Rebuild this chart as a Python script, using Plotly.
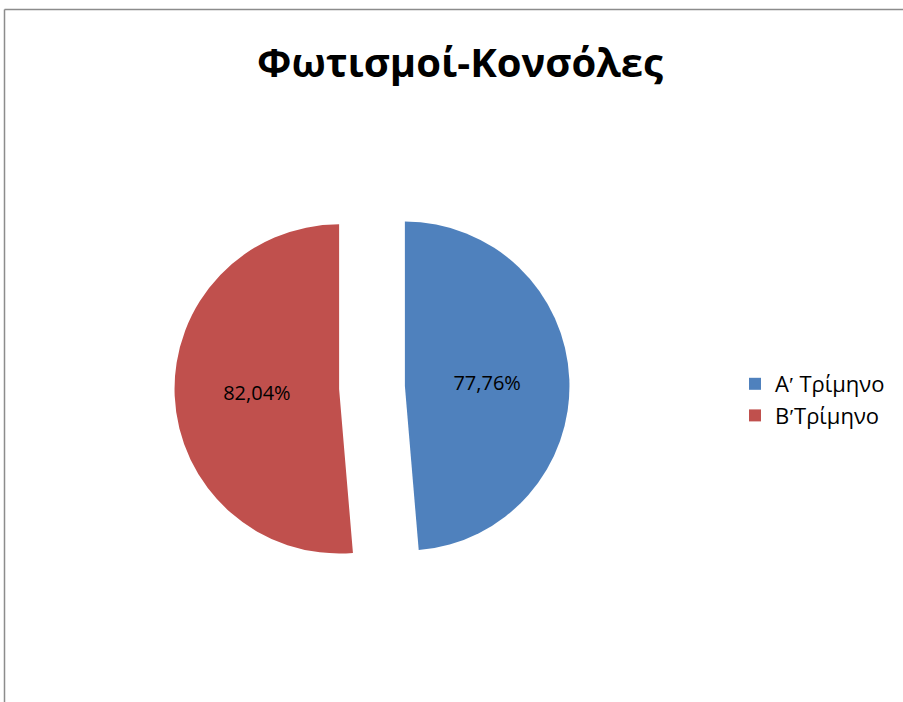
import plotly.graph_objects as go

labels = ["Αʹ Τρίμηνο", "ΒʹΤρίμηνο"]
values = [77.76, 82.04]
text_labels = ["77,76%", "82,04%"]
colors = ["#4F81BD", "#C0504D"]

W, H = 903, 702

fig = go.Figure(go.Pie(
    labels=labels,
    values=values,
    text=text_labels,
    textinfo="text",
    textposition="inside",
    insidetextfont=dict(family="Open Sans", size=20, color="black"),
    marker=dict(colors=colors, line=dict(width=0)),
    sort=False,
    direction="clockwise",
    rotation=0,
    pull=[0.2, 0.2],
    domain=dict(x=[(372 - 260) / W, (372 + 260) / W], y=[1 - 585 / H, 1 - 190 / H]),
    hoverinfo="label+value",
))

fig.update_layout(
    width=W, height=H,
    margin=dict(l=0, r=0, t=0, b=0),
    paper_bgcolor="white",
    plot_bgcolor="white",
    title=dict(text="<b>Φωτισμοί-Κονσόλες</b>", x=460 / W, xanchor="center",
               y=1 - 63 / H, yanchor="middle",
               font=dict(family="Open Sans", size=40, color="black")),
    legend=dict(x=735 / W, y=1 - 363 / H, xanchor="left", yanchor="top",
                font=dict(family="Open Sans", size=22, color="black"),
                itemwidth=30),
    shapes=[
        dict(type="line", xref="paper", yref="paper", x0=4.5 / W, x1=1.0, y0=1 - 9.5 / H, y1=1 - 9.5 / H,
             line=dict(color="#8C8C8C", width=1.5)),
        dict(type="line", xref="paper", yref="paper", x0=4.5 / W, x1=4.5 / W, y0=1 - 9.5 / H, y1=0,
             line=dict(color="#8C8C8C", width=1.5)),
    ],
)

fig.write_html("out.html")
